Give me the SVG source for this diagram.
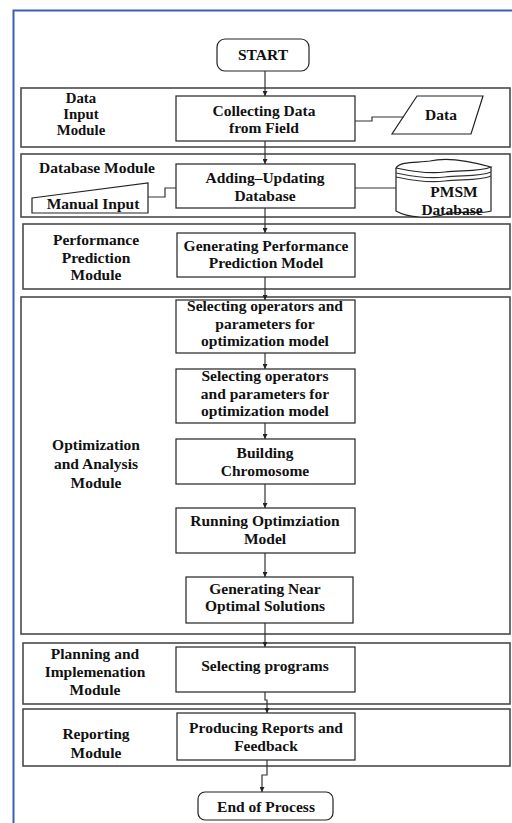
<svg xmlns="http://www.w3.org/2000/svg" width="512" height="823" viewBox="0 0 512 823">
<defs>
<marker id="ah" viewBox="0 0 10 10" refX="10" refY="5" markerWidth="5" markerHeight="5" orient="auto" markerUnits="userSpaceOnUse">
<path d="M0,0 L10,5 L0,10 Z" fill="#222"/>
</marker>
<style>
.mod{fill:#fff;stroke:#4a4a4a;stroke-width:1.6}
.box{fill:#fff;stroke:#222;stroke-width:1.2}
.ln{fill:none;stroke:#333;stroke-width:1.2}
.t{font-family:"Liberation Serif","Times New Roman",serif;font-weight:bold;font-size:15.5px;fill:#111;text-anchor:middle}
.s{font-size:14.8px}
</style>
</defs>
<rect width="512" height="823" fill="#fff"/>
<path d="M13.5,823 V10.5 H512" fill="none" stroke="#3f5fae" stroke-width="2"/>

<g id="module-data-input">
<rect class="mod" x="21" y="88" width="489" height="59"/>
<text class="t s" x="81" y="102.5">Data</text>
<text class="t s" x="81" y="118.5">Input</text>
<text class="t s" x="81" y="134.5">Module</text>
</g>
<g id="module-database">
<rect class="mod" x="21" y="154" width="489" height="63"/>
<text class="t" x="97" y="173">Database Module</text>
</g>
<g id="module-performance">
<rect class="mod" x="23" y="224" width="487" height="65"/>
<text class="t" x="96" y="245">Performance</text>
<text class="t" x="96" y="263">Prediction</text>
<text class="t" x="96" y="280">Module</text>
</g>
<g id="module-optimization">
<rect class="mod" x="21" y="297" width="489" height="337"/>
<text class="t" x="96" y="450">Optimization</text>
<text class="t" x="96" y="469">and Analysis</text>
<text class="t" x="96" y="488">Module</text>
</g>
<g id="module-planning">
<rect class="mod" x="23" y="643" width="487" height="61"/>
<text class="t" x="95" y="659">Planning and</text>
<text class="t" x="95" y="677">Implemenation</text>
<text class="t" x="95" y="695">Module</text>
</g>
<g id="module-reporting">
<rect class="mod" x="23" y="709" width="487" height="57"/>
<text class="t" x="96" y="739">Reporting</text>
<text class="t" x="96" y="758">Module</text>
</g>

<g id="start">
<rect class="box" x="217" y="39" width="92" height="32" rx="8"/>
<text class="t" x="263" y="60">START</text>
</g>
<g id="collecting">
<rect class="box" x="176" y="96" width="179" height="45"/>
<text class="t" x="264" y="116">Collecting Data</text>
<text class="t" x="264" y="133">from Field</text>
</g>
<g id="data">
<polygon class="box" points="417,96 483,96 471,134 392,134"/>
<text class="t" x="441" y="120">Data</text>
</g>
<g id="adding">
<rect class="box" x="176" y="164" width="179" height="44"/>
<text class="t" x="265" y="183">Adding–Updating</text>
<text class="t" x="265" y="201">Database</text>
</g>
<g id="manual-input">
<polygon class="box" points="32,198 148,183 148,213 32,213"/>
<text class="t" x="93" y="209">Manual Input</text>
</g>
<g id="pmsm-db">
<path class="box" d="M396,168 V211 C408,218 432,219 445,214 C458,210 478,215 491,211 V167"/>
<path class="box" d="M396,168 C400,161 418,163 430,161 C446,157 470,161 491,167 C480,172 460,170 445,172 C430,174 410,171 396,168 Z"/>
<path class="ln" d="M396,173 C410,176 430,179 445,177 C460,175 480,177 491,172"/>
<path class="ln" d="M396,177 C410,180 430,183 445,181 C460,179 480,181 491,176"/>
<text class="t" x="454" y="197">PMSM</text>
<text class="t" x="452" y="215">Database</text>
</g>
<g id="generating-ppm">
<rect class="box" x="177" y="233" width="178" height="44"/>
<text class="t" x="266" y="251">Generating Performance</text>
<text class="t" x="266" y="268">Prediction Model</text>
</g>
<g id="selecting-1">
<rect class="box" x="176" y="300" width="179" height="53"/>
<text class="t" x="265" y="311">Selecting operators and</text>
<text class="t" x="265" y="329">parameters for</text>
<text class="t" x="265" y="346">optimization model</text>
</g>
<g id="selecting-2">
<rect class="box" x="176" y="369" width="179" height="54"/>
<text class="t" x="265" y="381">Selecting operators</text>
<text class="t" x="265" y="399">and parameters for</text>
<text class="t" x="265" y="416">optimization model</text>
</g>
<g id="building">
<rect class="box" x="176" y="439" width="179" height="45"/>
<text class="t" x="265" y="458">Building</text>
<text class="t" x="265" y="476">Chromosome</text>
</g>
<g id="running">
<rect class="box" x="176" y="508" width="179" height="45"/>
<text class="t" x="265" y="526">Running Optimziation</text>
<text class="t" x="265" y="544">Model</text>
</g>
<g id="near-optimal">
<rect class="box" x="186" y="577" width="167" height="46"/>
<text class="t" x="265" y="594">Generating Near</text>
<text class="t" x="265" y="611">Optimal Solutions</text>
</g>
<g id="selecting-programs">
<rect class="box" x="176" y="647" width="179" height="45"/>
<text class="t" x="265" y="671">Selecting programs</text>
</g>
<g id="producing">
<rect class="box" x="177" y="713" width="178" height="47"/>
<text class="t" x="266" y="733">Producing Reports and</text>
<text class="t" x="266" y="751">Feedback</text>
</g>
<g id="end">
<rect class="box" x="198" y="792" width="135" height="28" rx="7"/>
<text class="t" x="266" y="812">End of Process</text>
</g>

<g id="connectors">
<path class="ln" d="M265,71 V96" marker-end="url(#ah)"/>
<path class="ln" d="M265,141 V164" marker-end="url(#ah)"/>
<path class="ln" d="M355,121 H372 V117 H404"/>
<path class="ln" d="M148,197 H165 V188 H176"/>
<path class="ln" d="M355,188 H396"/>
<path class="ln" d="M265,208 V233" marker-end="url(#ah)"/>
<path class="ln" d="M265,277 V300" marker-end="url(#ah)"/>
<path class="ln" d="M265,353 V369" marker-end="url(#ah)"/>
<path class="ln" d="M265,423 V439" marker-end="url(#ah)"/>
<path class="ln" d="M265,484 V508" marker-end="url(#ah)"/>
<path class="ln" d="M265,553 V577" marker-end="url(#ah)"/>
<path class="ln" d="M265,623 V647" marker-end="url(#ah)"/>
<path class="ln" d="M265,692 V700 H267 V713" marker-end="url(#ah)"/>
<path class="ln" d="M267,760 V775 H262 V792" marker-end="url(#ah)"/>
</g>
</svg>
